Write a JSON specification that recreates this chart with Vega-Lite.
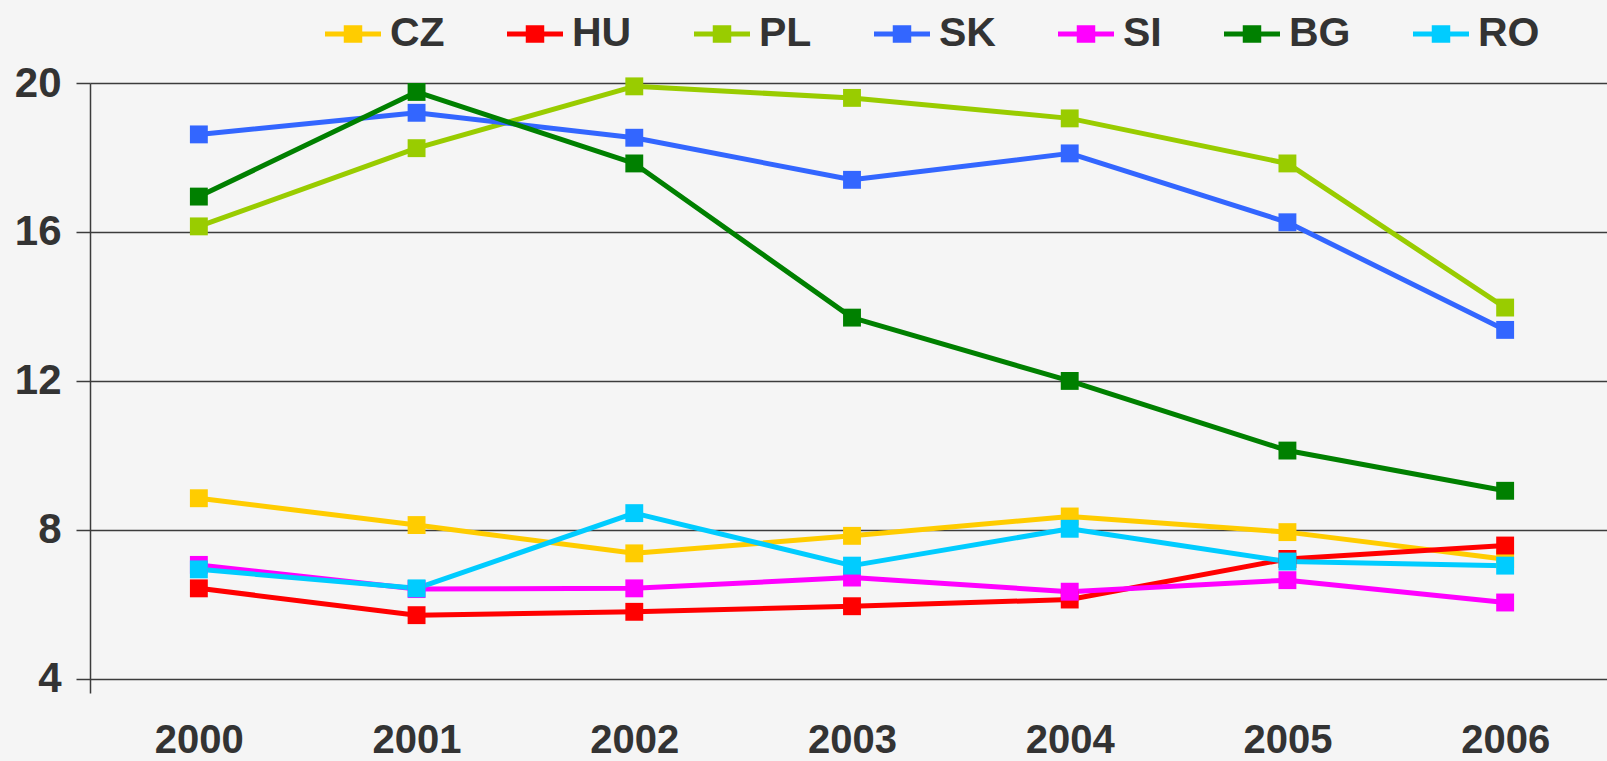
{
  "$schema": "https://vega.github.io/schema/vega-lite/v6.json",
  "width": 1524,
  "height": 610,
  "autosize": {"type": "none"},
  "padding": {"left": 90, "top": 83, "right": 0, "bottom": 68},
  "background": "#f5f5f5",
  "config": {
    "view": {"stroke": null},
    "font": "Liberation Sans"
  },
  "data": {
    "values": [
      {"country": "CZ", "year": "2000", "value": 8.85},
      {"country": "CZ", "year": "2001", "value": 8.13},
      {"country": "CZ", "year": "2002", "value": 7.37},
      {"country": "CZ", "year": "2003", "value": 7.84},
      {"country": "CZ", "year": "2004", "value": 8.36},
      {"country": "CZ", "year": "2005", "value": 7.94},
      {"country": "CZ", "year": "2006", "value": 7.21},
      {"country": "HU", "year": "2000", "value": 6.43},
      {"country": "HU", "year": "2001", "value": 5.71},
      {"country": "HU", "year": "2002", "value": 5.8},
      {"country": "HU", "year": "2003", "value": 5.95},
      {"country": "HU", "year": "2004", "value": 6.13},
      {"country": "HU", "year": "2005", "value": 7.22},
      {"country": "HU", "year": "2006", "value": 7.58},
      {"country": "PL", "year": "2000", "value": 16.15},
      {"country": "PL", "year": "2001", "value": 18.25},
      {"country": "PL", "year": "2002", "value": 19.91},
      {"country": "PL", "year": "2003", "value": 19.6},
      {"country": "PL", "year": "2004", "value": 19.05},
      {"country": "PL", "year": "2005", "value": 17.84},
      {"country": "PL", "year": "2006", "value": 13.97},
      {"country": "SK", "year": "2000", "value": 18.62},
      {"country": "SK", "year": "2001", "value": 19.2},
      {"country": "SK", "year": "2002", "value": 18.53},
      {"country": "SK", "year": "2003", "value": 17.4},
      {"country": "SK", "year": "2004", "value": 18.11},
      {"country": "SK", "year": "2005", "value": 16.26},
      {"country": "SK", "year": "2006", "value": 13.37},
      {"country": "SI", "year": "2000", "value": 7.06},
      {"country": "SI", "year": "2001", "value": 6.41},
      {"country": "SI", "year": "2002", "value": 6.43},
      {"country": "SI", "year": "2003", "value": 6.72},
      {"country": "SI", "year": "2004", "value": 6.34},
      {"country": "SI", "year": "2005", "value": 6.65},
      {"country": "SI", "year": "2006", "value": 6.05},
      {"country": "BG", "year": "2000", "value": 16.95},
      {"country": "BG", "year": "2001", "value": 19.76},
      {"country": "BG", "year": "2002", "value": 17.84},
      {"country": "BG", "year": "2003", "value": 13.7},
      {"country": "BG", "year": "2004", "value": 12.0},
      {"country": "BG", "year": "2005", "value": 10.13},
      {"country": "BG", "year": "2006", "value": 9.05},
      {"country": "RO", "year": "2000", "value": 6.94},
      {"country": "RO", "year": "2001", "value": 6.43},
      {"country": "RO", "year": "2002", "value": 8.45},
      {"country": "RO", "year": "2003", "value": 7.04},
      {"country": "RO", "year": "2004", "value": 8.03},
      {"country": "RO", "year": "2005", "value": 7.15},
      {"country": "RO", "year": "2006", "value": 7.04}
    ]
  },
  "encoding": {
    "x": {
      "field": "year",
      "type": "ordinal",
      "scale": {"type": "point", "padding": 0.5},
      "axis": {
        "title": null,
        "labelAngle": 0,
        "domain": false,
        "ticks": false,
        "labelFontSize": 40,
        "labelFontWeight": "bold",
        "labelColor": "#333333",
        "labelPadding": 27
      }
    },
    "y": {
      "field": "value",
      "type": "quantitative",
      "scale": {"domain": [3.62, 20], "nice": false, "zero": false},
      "axis": {
        "title": null,
        "values": [4, 8, 12, 16, 20],
        "grid": true,
        "gridColor": "#3c3c3c",
        "gridWidth": 1.5,
        "gridOpacity": 1,
        "domainColor": "#3c3c3c",
        "domainWidth": 1.5,
        "tickColor": "#3c3c3c",
        "tickWidth": 1.5,
        "tickSize": 14,
        "labelFontSize": 42,
        "labelFontWeight": "bold",
        "labelColor": "#333333",
        "labelPadding": 15
      }
    },
    "color": {
      "field": "country",
      "type": "nominal",
      "sort": ["CZ", "HU", "PL", "SK", "SI", "BG", "RO"],
      "scale": {
        "domain": ["CZ", "HU", "PL", "SK", "SI", "BG", "RO"],
        "range": ["#FFCC00", "#FF0000", "#99CC00", "#3366FF", "#FF00FF", "#008000", "#00CCFF"]
      },
      "legend": {
        "title": null,
        "orient": "none",
        "legendX": 235,
        "legendY": -77,
        "direction": "horizontal",
        "columns": 7,
        "columnPadding": 62,
        "symbolType": "M-1,-0.09H1V0.09H-1Z M-0.33,-0.31H0.33V0.31H-0.33Z",
        "symbolSize": 3136,
        "symbolStrokeWidth": 0,
        "labelFontSize": 41,
        "labelFontWeight": "bold",
        "labelColor": "#333333",
        "labelOffset": 9,
        "encode": {
          "symbols": {
            "update": {
              "fill": {"scale": "color", "field": "value"},
              "stroke": {"value": "transparent"},
              "opacity": {"value": 1}
            }
          }
        }
      }
    }
  },
  "layer": [
    {
      "mark": {"type": "line", "strokeWidth": 5, "strokeJoin": "round"}
    },
    {
      "mark": {"type": "point", "shape": "square", "filled": true, "size": 320, "opacity": 1}
    }
  ]
}
